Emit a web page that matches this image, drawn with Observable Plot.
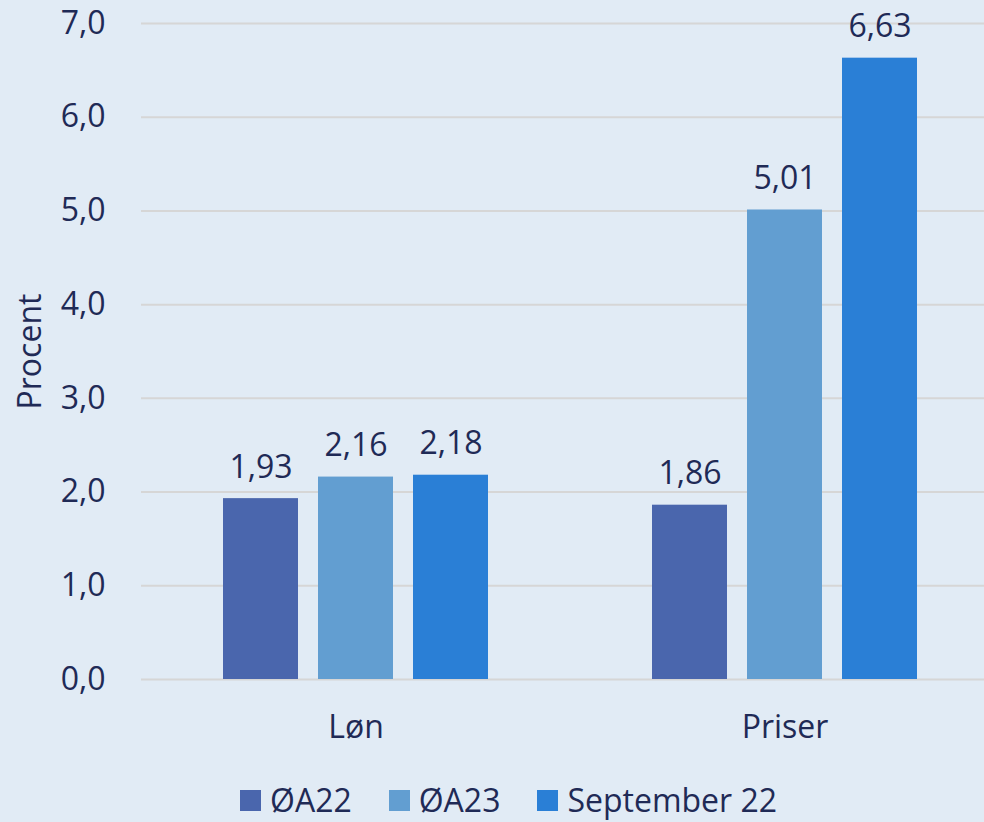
<!DOCTYPE html>
<html>
<head>
<meta charset="utf-8">
<script src="https://cdn.jsdelivr.net/npm/d3@7"></script>
<script src="https://cdn.jsdelivr.net/npm/@observablehq/plot@0.6"></script>
<style>
  html, body { margin: 0; padding: 0; background: #e1ebf5; overflow: hidden; }
  #wrap { width: 984px; height: 822px; overflow: hidden; background: #e1ebf5; font-family: "Open Sans", sans-serif; color: #1f2a56; }
  #chart svg { max-width: none !important; display: block; }
  #legend { display: flex; align-items: center; height: 60px; padding-left: 240px; font-size: 32px; line-height: 1; }
  .item { display: flex; align-items: center; margin-right: 37px; }
  .item span { line-height: 1; }
  .sw { width: 21px; height: 21px; margin-right: 9px; }
</style>
</head>
<body>
<div id="wrap"><div id="chart"></div><div id="legend"></div></div>
<script>
const categories = ["Løn", "Priser"];
const series = ["ØA22", "ØA23", "September 22"];
const colors = ["#4a66ad", "#629ed1", "#2a7fd6"];
const lonValues = [1.93, 2.16, 2.18];
const priserValues = [1.86, 5.01, 6.63];
const yTicks = [0, 1, 2, 3, 4, 5, 6, 7];
const yLabel = "Procent";

const data = [];
[lonValues, priserValues].forEach((vals, i) => {
  vals.forEach((v, j) => data.push({category: categories[i], series: series[j], value: v}));
});

const fmt = (v, d) => v.toFixed(d).replace(".", ",");
const textColor = "#1f2a56";

const chart = Plot.plot({
  width: 999,
  height: 770,
  marginLeft: 141,
  marginRight: 0,
  marginTop: 23,
  marginBottom: 91,
  style: {fontFamily: "Open Sans", fontSize: "32px", color: textColor, background: "transparent", overflow: "visible", maxWidth: "none"},
  fx: {domain: categories, padding: 0},
  x: {domain: series, paddingInner: 0.2105, paddingOuter: 0.863, axis: null},
  y: {domain: [0, 7], axis: null},
  color: {domain: series, range: colors},
  marks: [
    Plot.gridY(yTicks, {stroke: "#d6d6d6", strokeOpacity: 1, strokeWidth: 2}),
    Plot.barY(data, {fx: "category", x: "series", y: "value", fill: "series"}),
    Plot.text(data, {fx: "category", x: "series", y: "value", text: d => fmt(d.value, 2), lineAnchor: "bottom", dy: -21, fill: textColor, fontSize: 32}),
    Plot.axisY({ticks: yTicks, tickFormat: d => fmt(d, 1), tickSize: 0, tickPadding: 36, label: null, fontSize: 32}),
    Plot.axisFx({anchor: "bottom", tickSize: 0, tickPadding: 36, label: null, fontSize: 32}),
    Plot.text([{fx: categories[0], t: yLabel}], {fx: "fx", text: "t", frameAnchor: "left", textAnchor: "middle", rotate: -90, dx: -111, fill: textColor, fontSize: 32})
  ]
});
document.getElementById("chart").appendChild(chart);

const legend = document.getElementById("legend");
series.forEach((s, i) => {
  const item = document.createElement("div");
  item.className = "item";
  const sw = document.createElement("div");
  sw.className = "sw";
  sw.style.background = colors[i];
  const label = document.createElement("span");
  label.textContent = s;
  item.appendChild(sw);
  item.appendChild(label);
  legend.appendChild(item);
});
</script>
</body>
</html>
